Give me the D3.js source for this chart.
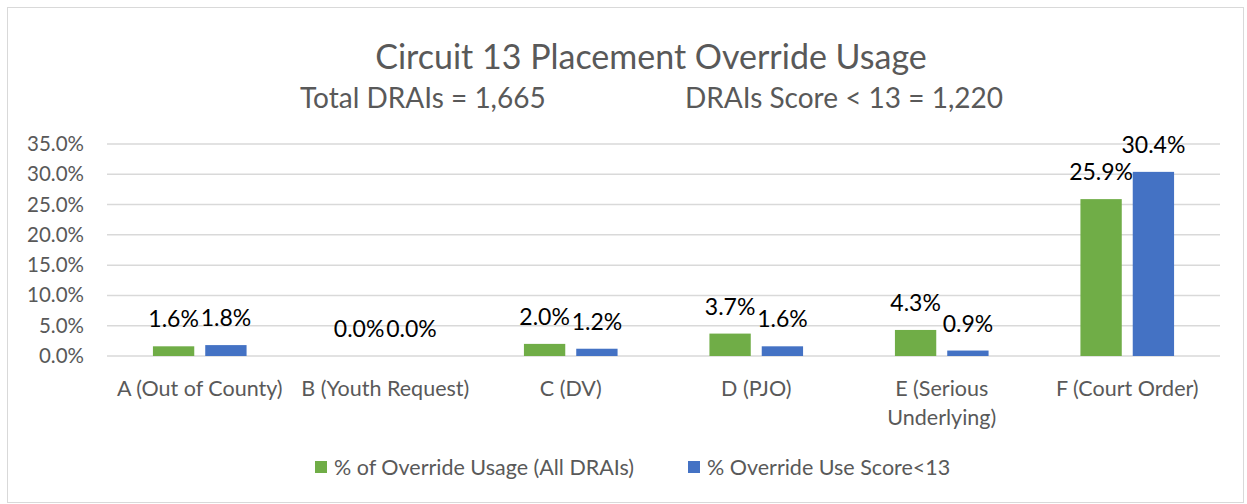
<!DOCTYPE html>
<html><head><meta charset="utf-8">
<script src="https://cdn.jsdelivr.net/npm/d3@7"></script>
<style>
html,body{margin:0;padding:0;background:#fff;}
svg{display:block;font-family:"Lato","Open Sans",sans-serif;}
</style></head>
<body><svg id="c" width="1247" height="504"></svg>
<script>
const title = "Circuit 13 Placement Override Usage";
const subtitleLeft = "Total DRAIs = 1,665";
const subtitleRight = "DRAIs Score < 13 = 1,220";
const categories = ["A (Out of County)", "B (Youth Request)", "C (DV)", "D (PJO)", "E (Serious Underlying)", "F (Court Order)"];
const seriesNames = ["% of Override Usage (All DRAIs)", "% Override Use Score<13"];
const allDrais = [1.6, 0.0, 2.0, 3.7, 4.3, 25.9];
const score13 = [1.8, 0.0, 1.2, 1.6, 0.9, 30.4];
const yTicks = [0, 5, 10, 15, 20, 25, 30, 35];
const colors = ["#70AD47", "#4472C4"];

const svg = d3.select("#c");
svg.append("rect").attr("x", 7.5).attr("y", 7.5).attr("width", 1236).attr("height", 495)
  .attr("fill", "#fff").attr("stroke", "#d9d9d9").attr("stroke-width", 1);

const x = d3.scaleBand().domain(categories).range([107, 1220]);
const x1 = d3.scaleBand().domain(seriesNames).range([0, x.bandwidth()]).paddingInner(0.21).paddingOuter(0.878);
const y = d3.scaleLinear().domain([0, 35]).range([356, 144]);

// gridlines
svg.append("g").selectAll("line").data(yTicks).join("line")
  .attr("x1", 107).attr("x2", 1220)
  .attr("y1", d => y(d)).attr("y2", d => y(d))
  .attr("stroke", "#d9d9d9").attr("stroke-width", 1.5);

// y axis labels
const yAxis = d3.axisLeft(y).tickValues(yTicks).tickFormat(d => d.toFixed(1) + "%").tickSize(0).tickPadding(0);
const yg = svg.append("g").attr("transform", "translate(84,0)").call(yAxis);
yg.select(".domain").remove();
yg.selectAll("text").attr("fill", "#595959").attr("font-size", 20.5).attr("font-family", "Lato");

// bars
const rows = categories.map((c, i) => ({cat: c, vals: [allDrais[i], score13[i]]}));
const grp = svg.append("g").selectAll("g").data(rows).join("g")
  .attr("transform", d => `translate(${x(d.cat)},0)`);
grp.selectAll("rect").data(d => d.vals.map((v, j) => ({v, s: seriesNames[j], j}))).join("rect")
  .attr("x", d => x1(d.s)).attr("width", x1.bandwidth())
  .attr("y", d => y(d.v)).attr("height", d => y(0) - y(d.v))
  .attr("fill", d => colors[d.j]);
grp.selectAll("text").data(d => d.vals.map((v, j) => ({v, s: seriesNames[j], j}))).join("text")
  .attr("x", d => x1(d.s) + x1.bandwidth() / 2).attr("y", d => y(d.v) - 19)
  .attr("text-anchor", "middle").attr("font-size", 23).attr("fill", "#000")
  .text(d => d.v.toFixed(1) + "%");

// x axis labels
const xAxis = d3.axisBottom(x).tickSize(0).tickPadding(0);
const xg = svg.append("g").attr("transform", "translate(0,380)").call(xAxis);
xg.select(".domain").remove();
xg.selectAll("text").attr("fill", "#595959").attr("font-size", 21.5).attr("font-family", "Lato").attr("dy", "0.75em")
  .each(function(d) {
    const t = d3.select(this);
    if (this.getComputedTextLength() > x.bandwidth() + 5) {
      const words = d.split(" ");
      const l1 = words.slice(0, 2).join(" "), l2 = words.slice(2).join(" ");
      t.text(null);
      t.append("tspan").attr("x", 0).attr("dy", "0.75em").text(l1);
      t.append("tspan").attr("x", 0).attr("dy", "1.33em").text(l2);
      t.attr("dy", null);
    }
  });

// titles
svg.append("text").attr("x", 651).attr("y", 69).attr("text-anchor", "middle")
  .attr("font-size", 34).attr("fill", "#595959").text(title);
svg.append("text").attr("x", 300).attr("y", 108).attr("font-size", 28).attr("fill", "#595959").text(subtitleLeft);
svg.append("text").attr("x", 685).attr("y", 108).attr("font-size", 28).attr("fill", "#595959").text(subtitleRight);

// legend
const legendX = [315, 688];
const lg = svg.append("g").selectAll("g").data(seriesNames).join("g")
  .attr("transform", (d, i) => `translate(${legendX[i]},461)`);
lg.append("rect").attr("width", 12).attr("height", 12).attr("fill", (d, i) => colors[i]);
lg.append("text").attr("x", 19).attr("y", 6).attr("dy", "0.35em").attr("font-size", 21.5)
  .attr("fill", "#595959").text(d => d);
</script></body></html>
